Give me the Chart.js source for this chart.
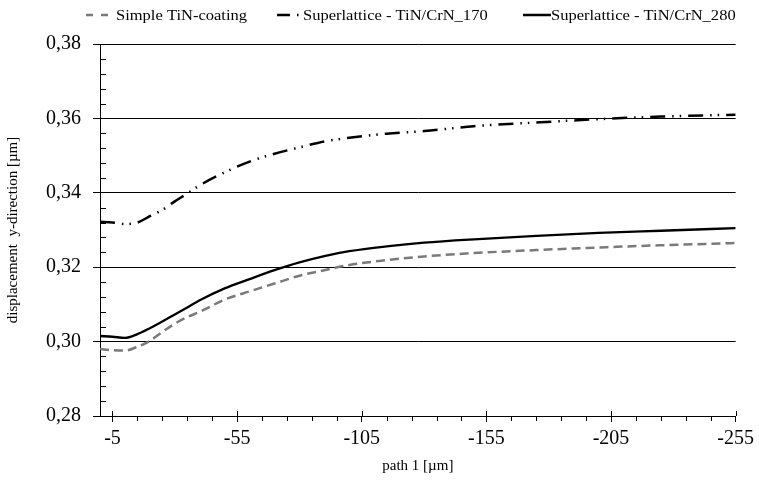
<!DOCTYPE html>
<html><head><meta charset="utf-8">
<script src="https://cdn.jsdelivr.net/npm/chart.js@4.4.1/dist/chart.umd.min.js"></script>
<style>html,body{margin:0;padding:0;background:#fff}#wrap{width:759px;height:482px;position:relative}</style>
</head><body><div id="wrap"><canvas id="c"></canvas></div>
<script>
// ---- data ----
const pathPositions = [0,-5,-10,-15,-20,-25,-30,-35,-40,-50,-60,-70,-80,-90,-100,-115,-130,-150,-175,-200,-225,-255];
const simpleTiN = [0.2980,0.2977,0.2976,0.2986,0.3002,0.3026,0.3048,0.3066,0.3080,0.3113,0.3135,0.3156,0.3177,0.3192,0.3206,0.3219,0.3229,0.3238,0.3246,0.3253,0.3259,0.3265];
const sl170 = [0.3322,0.3320,0.3316,0.3320,0.3337,0.3354,0.3377,0.3398,0.3420,0.3455,0.3484,0.3505,0.3522,0.3538,0.3548,0.3559,0.3566,0.3579,0.3589,0.3598,0.3605,0.3610];
const sl280 = [0.3015,0.3013,0.3010,0.3020,0.3036,0.3054,0.3073,0.3092,0.3111,0.3143,0.3168,0.3192,0.3213,0.3230,0.3243,0.3256,0.3266,0.3275,0.3284,0.3292,0.3298,0.3305];
const xTickValues = [-5,-55,-105,-155,-205,-255];
const yTickValues = [0.28,0.30,0.32,0.34,0.36,0.38];
const seriesNames = ['Simple TiN-coating','Superlattice - TiN/CrN_170','Superlattice - TiN/CrN_280'];
const xTitle = 'path 1 [µm]';
const yTitle = 'displacement  y-direction [µm]';

const FONT = "'Liberation Serif','Times New Roman',serif";
const GRAY = '#7a7a7a';
const DASH_DOT = [15,7,1.5,6,1.5,7];
const DASH = [9,5];

function pts(arr){ return pathPositions.map((x,i)=>({x:x,y:arr[i]})); }

const extras = {
  id:'extras',
  afterDraw(chart){
    const ctx = chart.ctx, xs = chart.scales.x, ys = chart.scales.y;
    const area = chart.chartArea;
    ctx.save();
    ctx.strokeStyle = '#000'; ctx.lineWidth = 1;
    // y minor ticks (inside)
    for (let k=0;k<=25;k++){
      const v = 0.28 + k*0.004;
      if (k%5===0) continue;
      const py = Math.round(ys.getPixelForValue(v))+0.5;
      ctx.beginPath(); ctx.moveTo(area.left, py); ctx.lineTo(area.left+6, py); ctx.stroke();
    }
    // x minor ticks (outside, below) and upper part of majors
    for (let k=0;k<=25;k++){
      const v = -5 - k*10;
      if (v < -255) break;
      const px = Math.round(xs.getPixelForValue(v))+0.5;
      ctx.beginPath();
      if (k%5===0){ ctx.moveTo(px, area.bottom-5); ctx.lineTo(px, area.bottom); }
      else { ctx.moveTo(px, area.bottom); ctx.lineTo(px, area.bottom+5); }
      ctx.stroke();
    }
    // legend
    const ly = 15;
    ctx.font = '14px ' + FONT;
    ctx.fillStyle = '#000';
    ctx.textBaseline = 'middle';
    ctx.textAlign = 'left';
    const sx = 131 / ctx.measureText(seriesNames[0]).width;
    function txt(s, x){ ctx.save(); ctx.translate(x, ly+1); ctx.scale(sx,1); ctx.fillText(s,0,0); ctx.restore(); }
    // item 1
    ctx.lineWidth = 2.5; ctx.strokeStyle = GRAY; ctx.setLineDash([7,8]);
    ctx.beginPath(); ctx.moveTo(86, ly); ctx.lineTo(109, ly); ctx.stroke();
    txt(seriesNames[0], 116);
    // item 2
    ctx.strokeStyle = '#000'; ctx.setLineDash([13,7,1.5,20]);
    ctx.beginPath(); ctx.moveTo(277, ly); ctx.lineTo(300, ly); ctx.stroke();
    txt(seriesNames[1], 303);
    // item 3
    ctx.setLineDash([]);
    ctx.beginPath(); ctx.moveTo(523, ly); ctx.lineTo(551, ly); ctx.stroke();
    txt(seriesNames[2], 551);
    ctx.restore();
  }
};

new Chart(document.getElementById('c'), {
  type:'line',
  data:{ datasets:[
    {label:seriesNames[0], data:pts(simpleTiN), borderColor:GRAY, borderWidth:2.5, borderDash:DASH, pointRadius:0, cubicInterpolationMode:'monotone', fill:false},
    {label:seriesNames[1], data:pts(sl170), borderColor:'#000', borderWidth:2.5, borderDash:DASH_DOT, pointRadius:0, cubicInterpolationMode:'monotone', fill:false},
    {label:seriesNames[2], data:pts(sl280), borderColor:'#000', borderWidth:2.3, pointRadius:0, cubicInterpolationMode:'monotone', fill:false}
  ]},
  options:{
    responsive:true, maintainAspectRatio:false, animation:false, devicePixelRatio:1,
    layout:{padding:{top:44,right:17,bottom:0,left:0}},
    plugins:{legend:{display:false}, tooltip:{enabled:false}},
    scales:{
      x:{
        type:'linear', min:-255, max:0, reverse:true, position:'bottom',
        afterBuildTicks(s){ s.ticks = xTickValues.map(v=>({value:v})); },
        afterFit(s){ s.height = 66; },
        border:{display:true,color:'#000',width:1},
        grid:{drawOnChartArea:false, drawTicks:true, tickLength:6, color:'#000', lineWidth:1},
        ticks:{color:'#000', font:{family:FONT,size:20}, padding:5, maxRotation:0, callback:v=>String(v)},
        title:{display:true, text:xTitle, color:'#000', font:{family:FONT,size:15}, padding:{top:0,bottom:7}}
      },
      y:{
        min:0.28, max:0.38,
        afterBuildTicks(s){ s.ticks = yTickValues.map(v=>({value:v})); },
        afterFit(s){ s.width = 100; },
        border:{display:true,color:'#000',width:1},
        grid:{drawTicks:true, tickLength:7, color:'#000', lineWidth:1},
        ticks:{color:'#000', font:{family:FONT,size:20}, padding:12, callback:v=>v.toFixed(2).replace('.',',')},
        title:{display:true, text:yTitle, color:'#000', font:{family:FONT,size:15}, padding:{top:4,bottom:0}}
      }
    }
  },
  plugins:[extras]
});
</script></body></html>
